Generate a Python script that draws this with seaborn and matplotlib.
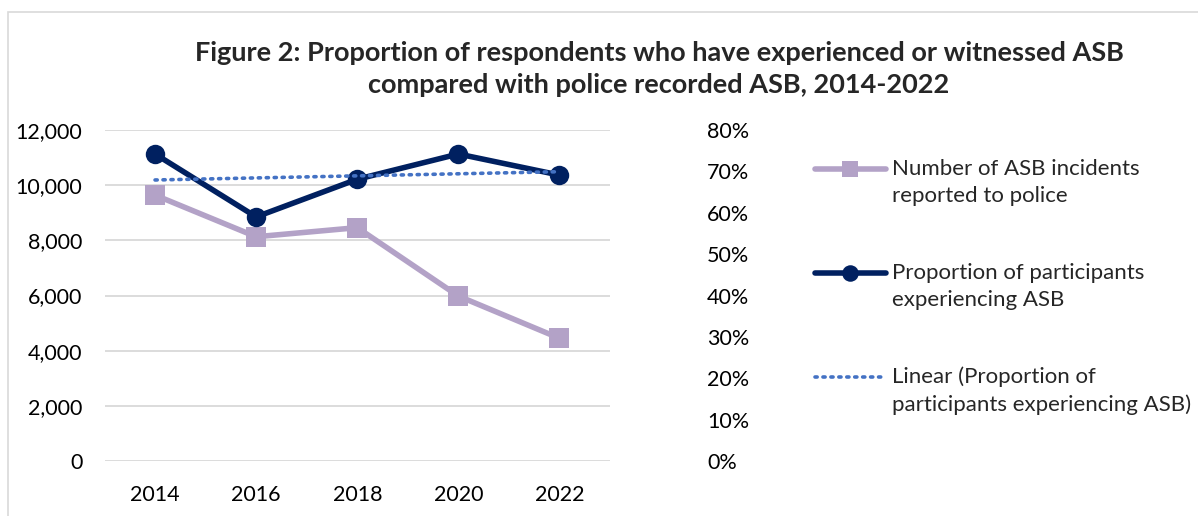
import matplotlib
matplotlib.use("Agg")
import matplotlib.pyplot as plt
import matplotlib.patches as mpatches
import matplotlib.ticker as mticker
from matplotlib.lines import Line2D
from matplotlib.legend_handler import HandlerLine2D
import seaborn as sns
import numpy as np
import pandas as pd

# data
years = [2014, 2016, 2018, 2020, 2022]
incidents = [9640, 8130, 8460, 5980, 4450]
proportion = [0.742, 0.590, 0.681, 0.742, 0.691]

LAB_INC = "Number of ASB incidents\nreported to police"
LAB_PROP = "Proportion of participants\nexperiencing ASB"
LAB_TREND = "Linear (Proportion of\nparticipants experiencing ASB)"

PURPLE = "#B3A2C7"
NAVY = "#002060"
BLUE = "#4472C4"
GRID = "#D9D9D9"

sns.set_theme(style="white")
plt.rcParams["font.family"] = ["Lato", "DejaVu Sans"]

df = pd.DataFrame({"year": years, "incidents": incidents, "proportion": proportion})


# legend key sits level with the first line of a two-line label (Excel style)
class HandlerFirstLine(HandlerLine2D):
    def create_artists(self, legend, orig_handle, xdescent, ydescent, width, height,
                       fontsize, trans):
        return super().create_artists(legend, orig_handle, xdescent, ydescent - 20,
                                      width, height, fontsize, trans)


fig = plt.figure(figsize=(11.98, 5.16), dpi=100)
ax = fig.add_axes([104.5 / 1198, 55 / 516, 505.5 / 1198, 331 / 516])

# chart border like the Excel chart area
fig.patches.append(mpatches.Rectangle((8 / 1198, -0.05), 1.2, (504 / 516) + 0.05,
                                      transform=fig.transFigure, fill=False,
                                      edgecolor="#D9D9D9", lw=1.2))

sns.lineplot(data=df, x="year", y="incidents", ax=ax, color=PURPLE, lw=4,
             marker="s", markersize=14, markeredgewidth=0, label=LAB_INC, legend=False)
ax.set_ylim(0, 12000)
ax.set_xlim(2013, 2023)
ax.set_yticks(range(0, 12001, 2000))
ax.yaxis.set_major_formatter(mticker.StrMethodFormatter("{x:,.0f}"))
ax.set_xticks(years)
ax.grid(axis="y", color=GRID, lw=1.3)
ax.grid(axis="x", visible=False)
ax.set_xlabel("")
ax.set_ylabel("")
for s in ax.spines.values():
    s.set_visible(False)
ax.tick_params(axis="both", length=0, labelsize=15.5, colors="#000000")
ax.tick_params(axis="y", pad=16)
ax.tick_params(axis="x", pad=17)

ax2 = ax.twinx()
sns.lineplot(data=df, x="year", y="proportion", ax=ax2, color=NAVY, lw=4,
             marker="o", markersize=14, markeredgewidth=0, label=LAB_PROP, legend=False)
sns.regplot(data=df, x="year", y="proportion", ax=ax2, scatter=False, ci=None,
            truncate=True, color=BLUE, label=LAB_TREND,
            line_kws=dict(ls=(0, (0.6, 1.6)), lw=2.6, dash_capstyle="round"))
ax2.set_ylim(0, 0.8)
ax2.set_yticks(np.arange(0, 0.81, 0.1))
ax2.yaxis.set_major_formatter(mticker.PercentFormatter(1.0, decimals=0))
ax2.set_ylabel("")
ax2.set_xlabel("")
ax2.grid(False)
for s in ax2.spines.values():
    s.set_visible(False)
ax2.tick_params(axis="y", length=0, labelsize=15.5, pad=70, colors="#000000")

h1, l1 = ax.get_legend_handles_labels()
h2, l2 = ax2.get_legend_handles_labels()
leg = fig.legend(h1 + h2, l1 + l2, loc="upper left", bbox_to_anchor=(806 / 1198, 1 - 150 / 516),
                 frameon=False, fontsize=16, handlelength=3.2, handletextpad=0.25,
                 labelspacing=2.55, borderaxespad=0, markerscale=0.85,
                 handler_map={Line2D: HandlerFirstLine()})
for t in leg.get_texts():
    t.set_linespacing(1.45)

fig.text(659 / 1198, 1 - 69 / 516,
         "Figure 2: Proportion of respondents who have experienced or witnessed ASB\n"
         "compared with police recorded ASB, 2014-2022",
         ha="center", va="center", fontsize=19.5, fontweight="bold", linespacing=1.4)

fig.savefig("out.png", dpi=100)
